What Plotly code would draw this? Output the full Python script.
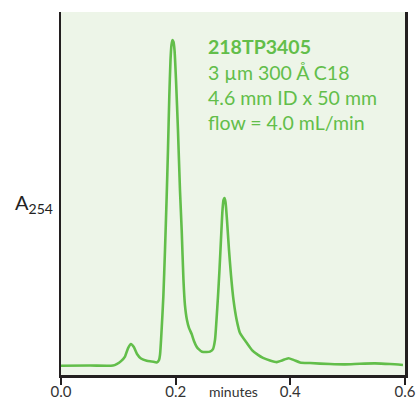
import plotly.graph_objects as go

# retention time (minutes)
time_min = [0.000, 0.0506, 0.0907, 0.0971, 0.1047, 0.1116, 0.117, 0.122, 0.127, 0.1326,
            0.1395, 0.1495, 0.1587, 0.1669, 0.1709, 0.1727, 0.175, 0.1785, 0.1814, 0.1843,
            0.1866, 0.1889, 0.191, 0.1927, 0.1945, 0.1962, 0.198, 0.2006, 0.204, 0.2075,
            0.2105, 0.2136, 0.2162, 0.2197, 0.2232, 0.2279, 0.2319, 0.2366, 0.2406, 0.2459,
            0.2541, 0.2598, 0.2651, 0.2686, 0.2712, 0.2738, 0.2764, 0.279, 0.2817, 0.2834,
            0.2851, 0.2869, 0.2895, 0.293, 0.2965, 0.3009, 0.3064, 0.3122, 0.3239, 0.3331,
            0.3436, 0.3523, 0.3645, 0.3762, 0.3854, 0.3968, 0.4064, 0.4169, 0.4343, 0.4692,
            0.4953, 0.5215, 0.5477, 0.5738, 0.5965]
# absorbance at 254 nm (relative)
absorbance = [0.001, 0.0015, 0.0015, 0.006, 0.015, 0.029, 0.055, 0.067, 0.058, 0.037,
              0.023, 0.016, 0.014, 0.011, 0.018, 0.034, 0.095, 0.213, 0.356, 0.519,
              0.663, 0.826, 0.939, 0.985, 1.0, 0.994, 0.969, 0.877, 0.724, 0.54,
              0.417, 0.264, 0.187, 0.141, 0.117, 0.098, 0.077, 0.059, 0.051, 0.044,
              0.043, 0.044, 0.052, 0.08, 0.141, 0.213, 0.294, 0.387, 0.479, 0.509,
              0.515, 0.503, 0.448, 0.356, 0.279, 0.202, 0.141, 0.101, 0.071, 0.049,
              0.034, 0.025, 0.017, 0.012, 0.017, 0.024, 0.018, 0.011, 0.009, 0.006,
              0.005, 0.007, 0.008, 0.006, 0.003]

tick_vals = [0.0, 0.2, 0.4, 0.6]
tick_text = ["0.0", "0.2", "0.4", "0.6"]
info_lines = ["<b>218TP3405</b>", "3 µm 300 Å C18", "4.6 mm ID x 50 mm", "flow = 4.0 mL/min"]

GREEN = "#62BE4A"
FONT = "Lato"

# plot area in pixels
L, R, T, B = 61, 405, 12, 375
PW, PH = R - L, B - T

fig = go.Figure()
fig.add_trace(go.Scatter(x=time_min, y=absorbance, mode="lines",
                         line=dict(color=GREEN, width=2.6, shape="spline", smoothing=0.6),
                         hoverinfo="skip"))

fig.update_layout(
    width=418, height=399,
    margin=dict(l=L, r=418 - R, t=T, b=399 - B, autoexpand=False),
    paper_bgcolor="white",
    plot_bgcolor="#EDF5E8",
    showlegend=False,
    font=dict(family=FONT, color="#333333"),
    xaxis=dict(range=[0, 0.6], tickvals=tick_vals, ticktext=tick_text, automargin=False,
               showgrid=False, zeroline=False, showline=True, linecolor="#231F20",
               linewidth=2.5, ticks="outside", ticklen=7, tickwidth=2, tickcolor="#231F20",
               ticklabelstandoff=-6,
               tickfont=dict(size=15, family=FONT, color="#333333")),
    yaxis=dict(range=[-0.0276, 1.086], showticklabels=False, showgrid=False, automargin=False,
               zeroline=False, showline=True, mirror=True, linecolor="#231F20",
               linewidth=2.5, ticks=""),
)

fig.add_annotation(x=0.3, y=(B - 391) / PH, xref="x", yref="paper", text="minutes",
                   xanchor="center", yanchor="middle",
                   showarrow=False, font=dict(size=14, family=FONT, color="#333333"))
fig.add_annotation(xref="paper", yref="paper", x=(34 - L) / PW, y=(B - 203) / PH,
                   xanchor="center", yanchor="middle", text="A<sub>254</sub>",
                   showarrow=False, font=dict(size=20, family=FONT, color="#222222"))

for i, line in enumerate(info_lines):
    fig.add_annotation(xref="paper", yref="paper",
                       x=(206 - L) / PW, y=(B - (47 + 25.3 * i)) / PH,
                       xanchor="left", yanchor="middle", text=line, showarrow=False,
                       font=dict(size=19.5, family=FONT, color=GREEN))

fig.write_html("out.html", config={"displayModeBar": False, "staticPlot": True},
               post_script="document.body.style.margin='0';document.body.style.padding='0';")
